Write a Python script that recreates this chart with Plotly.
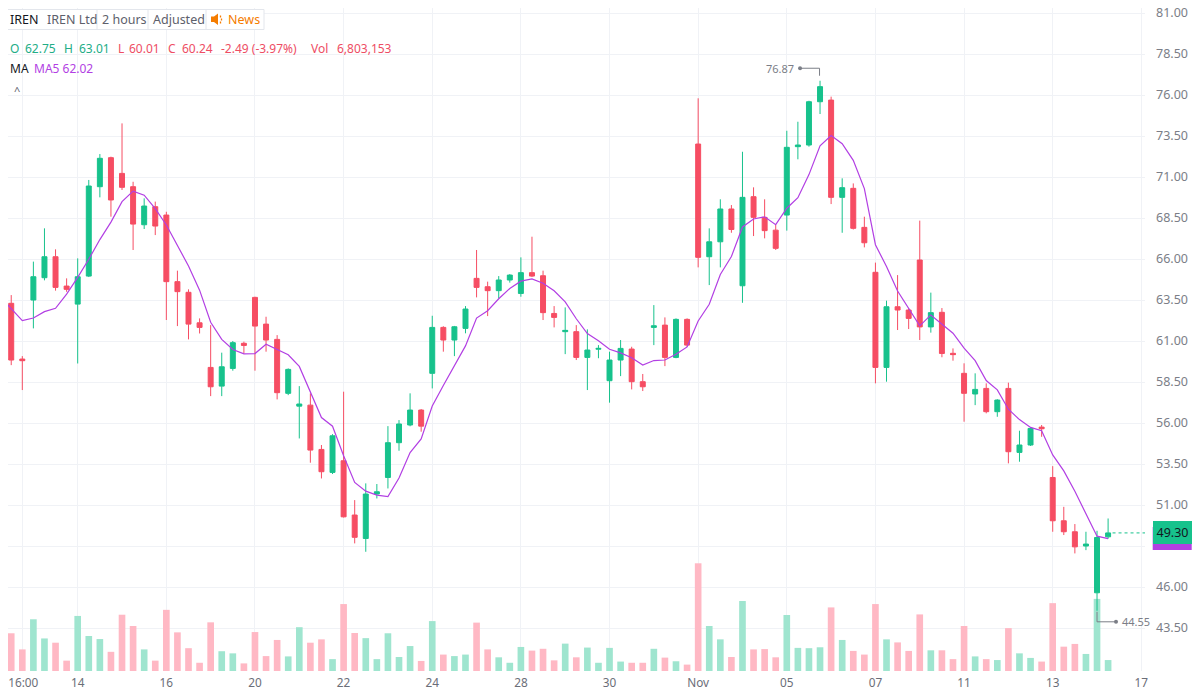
import plotly.graph_objects as go
import pandas as pd

# ---------------- data ----------------
opens = [64.15, 63.30, 59.90, 63.50, 64.86, 66.14, 64.35, 63.25, 64.96, 70.41,
         72.18, 71.22, 70.41, 68.09, 69.19, 68.68, 64.62, 63.97, 62.11, 59.39,
         58.25, 59.33, 60.86, 63.66, 62.03, 61.10, 57.81, 57.03, 57.09, 54.39,
         52.99, 53.70, 50.39, 48.96, 51.67, 52.68, 54.80, 55.88, 56.79, 59.03,
         61.83, 61.06, 61.77, 64.82, 64.31, 64.07, 64.72, 63.90, 65.17, 64.98,
         62.68, 61.57, 61.57, 60.00, 60.50, 58.58, 59.84, 60.51, 58.52, 61.83,
         61.97, 60.00, 62.32, 73.01, 66.14, 67.05, 69.05, 64.37, 69.80, 68.54,
         67.76, 68.68, 72.85, 72.95, 75.59, 75.69, 69.76, 70.31, 67.93, 65.19,
         59.39, 63.09, 62.89, 65.94, 61.86, 62.75, 60.25, 59.03, 57.77, 58.11,
         56.69, 58.11, 54.21, 54.66, 55.75, 52.68, 50.04, 49.37, 48.50, 45.65,
         49.06]
highs = [64.35, 63.80, 60.08, 65.84, 67.87, 66.59, 64.82, 66.04, 70.82, 72.40,
         72.24, 74.27, 70.71, 69.70, 69.50, 68.88, 65.29, 64.15, 62.38, 61.97,
         60.29, 61.00, 60.96, 63.70, 62.48, 61.36, 59.33, 58.25, 57.81, 54.66,
         55.32, 57.91, 51.30, 52.32, 52.28, 55.81, 56.18, 57.81, 56.85, 62.54,
         61.90, 61.92, 63.13, 66.55, 64.62, 64.96, 65.08, 66.10, 67.36, 65.29,
         63.13, 63.05, 61.97, 61.71, 60.75, 60.35, 61.06, 60.65, 58.99, 63.19,
         62.44, 62.38, 62.38, 75.80, 67.87, 69.64, 69.29, 72.54, 70.37, 69.64,
         68.07, 73.82, 74.37, 75.65, 76.87, 75.90, 70.92, 70.61, 68.58, 65.78,
         63.46, 65.02, 63.00, 68.34, 63.95, 63.01, 60.55, 59.64, 59.03, 58.42,
         57.45, 58.46, 55.53, 55.75, 55.88, 53.37, 50.89, 49.84, 49.37, 49.43,
         50.18]
lows = [63.10, 59.53, 58.01, 61.77, 64.70, 64.07, 64.00, 59.63, 64.90, 69.76,
        68.58, 70.21, 66.55, 67.83, 67.46, 62.28, 61.91, 61.10, 61.46, 57.64,
        57.64, 59.19, 60.24, 59.19, 60.35, 57.44, 57.70, 55.06, 53.58, 52.62,
        52.89, 50.24, 48.66, 48.15, 51.40, 52.01, 54.31, 55.80, 55.47, 58.11,
        60.35, 60.08, 61.47, 63.66, 62.52, 63.60, 64.56, 63.70, 64.90, 62.28,
        61.83, 60.20, 59.84, 58.01, 59.95, 57.24, 58.86, 58.05, 57.95, 60.75,
        59.47, 59.95, 60.65, 65.49, 64.41, 65.49, 67.60, 63.33, 67.40, 67.26,
        66.55, 67.73, 72.08, 72.85, 74.84, 69.35, 67.60, 67.80, 66.71, 58.42,
        58.52, 61.67, 61.73, 61.06, 61.51, 60.01, 59.80, 56.08, 57.09, 56.59,
        56.38, 53.54, 53.64, 54.60, 55.16, 49.37, 49.17, 48.05, 48.25, 44.55,
        48.95]
closes = [63.25, 59.84, 59.80, 64.92, 66.14, 64.27, 64.15, 64.92, 70.45, 72.14,
          69.60, 70.37, 68.13, 69.23, 68.01, 64.62, 64.01, 62.03, 61.83, 58.21,
          59.43, 60.90, 60.73, 61.91, 61.06, 57.85, 59.27, 57.16, 54.35, 53.03,
          55.22, 50.28, 49.03, 51.67, 51.81, 54.80, 55.94, 56.79, 55.81, 61.83,
          61.06, 61.87, 62.95, 64.27, 64.07, 64.72, 65.02, 65.17, 64.96, 62.73,
          62.44, 61.65, 60.00, 60.45, 60.55, 59.84, 60.55, 58.52, 58.21, 61.93,
          60.00, 62.32, 60.75, 66.10, 67.05, 69.05, 67.80, 69.76, 68.54, 67.73,
          66.65, 72.81, 72.95, 75.59, 76.51, 69.76, 70.35, 67.87, 66.99, 59.39,
          63.09, 62.89, 62.38, 61.86, 62.73, 60.24, 60.17, 57.81, 58.05, 56.69,
          57.40, 54.25, 54.66, 55.67, 55.65, 50.04, 49.37, 48.45, 48.62, 49.02,
          49.30]
# closes of the 4 bars before the visible window (estimated from the MA line)
prior_closes = [63.39, 63.55, 64.12, 64.19]
# volume in millions of shares
volumes = [14.9, 12.4, 7.1, 17.0, 10.7, 9.3, 3.4, 18.1, 11.5, 10.5,
           6.3, 18.5, 14.8, 7.1, 3.4, 20.1, 12.7, 7.5, 2.7, 16.0,
           6.5, 5.8, 2.5, 12.8, 4.9, 10.2, 4.8, 14.4, 9.3, 10.4,
           3.9, 22.0, 12.5, 10.8, 3.9, 12.4, 4.6, 8.2, 3.3, 16.4,
           5.4, 4.9, 5.4, 15.9, 7.1, 4.5, 2.7, 7.9, 6.7, 7.3,
           3.5, 9.0, 4.5, 7.7, 2.7, 7.6, 3.1, 2.7, 2.7, 7.3,
           4.4, 3.2, 2.1, 35.4, 14.8, 10.4, 4.6, 23.0, 7.1, 7.2,
           4.5, 18.4, 7.6, 7.5, 7.8, 20.9, 10.2, 6.6, 5.4, 22.0,
           10.4, 9.4, 6.6, 18.6, 6.8, 6.803153, 3.9, 14.8, 4.8, 3.9,
           3.6, 14.1, 5.8, 4.3, 3.1, 22.3, 8.0, 8.9, 5.6, 23.7,
           3.6]
tick_idx = [2, 7, 15, 23, 31, 39, 47, 55, 63, 71, 79, 87, 95, 103]
tick_text = ["\u200916:00", "14", "16", "20", "22", "24", "28", "30", "Nov", "05", "07", "11", "13", "17"]
price_ticks = [43.5, 46.0, 48.5, 51.0, 53.5, 56.0, 58.5, 61.0, 63.5, 66.0, 68.5, 71.0, 73.5, 76.0, 78.5, 81.0]
hidden_price_ticks = [48.5]   # covered by the last-price tag in the reference

# ---------------- styling ----------------
UP = "#17c28c"
DN = "#f64d63"
VUP = "#9fe5cf"
VDN = "#ffb8c4"
MA_C = "#b23fe3"
GRID = "#f0f2f6"
AX = "#7b7e87"
FONT = "Noto Sans"

OFF = 8                      # page body margin of the browser
W, H = 1200 - OFF, 693 - OFF
ML, MR, MT, MB = 0, 55, 0, 22
PW, PH = W - ML - MR, H - MT - MB

n = len(closes)
idx = list(range(n))
XR = [0.709, 103.33]
YR = [40.88, 81.305]
VR = [0, 217.9]

ma = pd.Series(prior_closes + closes).rolling(5).mean().tolist()[len(prior_closes):]

def px(sx):
    return (sx - OFF) / PW

def py(sy):
    return (PH - (sy - OFF)) / PH

fig = go.Figure()

fig.add_trace(go.Bar(
    x=idx, y=volumes, width=0.6,
    marker=dict(color=[VUP if c >= o else VDN for o, c in zip(opens, closes)], line=dict(width=0)),
    xaxis="x", yaxis="y", hoverinfo="skip", showlegend=False))

fig.add_trace(go.Candlestick(
    x=idx, open=opens, high=highs, low=lows, close=closes,
    increasing=dict(line=dict(color=UP, width=1), fillcolor=UP),
    decreasing=dict(line=dict(color=DN, width=1), fillcolor=DN),
    whiskerwidth=0, xaxis="x", yaxis="y2", showlegend=False))

fig.add_trace(go.Scatter(
    x=idx, y=ma, mode="lines", line=dict(color=MA_C, width=1.2),
    xaxis="x", yaxis="y2", hoverinfo="skip", showlegend=False))

shapes = []
annotations = []

# last price dotted line
shapes.append(dict(type="line", xref="x", yref="y2", x0=idx[-1] + 0.4, x1=XR[1],
                   y0=closes[-1], y1=closes[-1], line=dict(color=UP, width=1, dash="dot")))

# high / low markers
hi_i = max(idx, key=lambda i: highs[i])
lo_i = min(idx, key=lambda i: lows[i])
MK = "#7b7e87"
shapes += [
    dict(type="line", xref="x", yref="y2", xsizemode="pixel", ysizemode="pixel",
         xanchor=hi_i, yanchor=highs[hi_i], x0=-0.5, x1=-0.5, y0=5, y1=12.5, line=dict(color=MK, width=1)),
    dict(type="line", xref="x", yref="y2", xsizemode="pixel", ysizemode="pixel",
         xanchor=hi_i, yanchor=highs[hi_i], x0=-20, x1=-0.5, y0=12.5, y1=12.5, line=dict(color=MK, width=1)),
    dict(type="circle", xref="x", yref="y2", xsizemode="pixel", ysizemode="pixel",
         xanchor=hi_i, yanchor=highs[hi_i], x0=-22, x1=-18, y0=10.5, y1=14.5, fillcolor=MK, line=dict(width=0)),
    dict(type="line", xref="x", yref="y2", xsizemode="pixel", ysizemode="pixel",
         xanchor=lo_i, yanchor=lows[lo_i], x0=0, x1=0, y0=-1, y1=-11, line=dict(color=MK, width=1)),
    dict(type="line", xref="x", yref="y2", xsizemode="pixel", ysizemode="pixel",
         xanchor=lo_i, yanchor=lows[lo_i], x0=0, x1=19, y0=-11, y1=-11, line=dict(color=MK, width=1)),
    dict(type="circle", xref="x", yref="y2", xsizemode="pixel", ysizemode="pixel",
         xanchor=lo_i, yanchor=lows[lo_i], x0=17, x1=21, y0=-13, y1=-9, fillcolor=MK, line=dict(width=0)),
]
annotations += [
    dict(x=hi_i, y=highs[hi_i], xref="x", yref="y2", text=f"{highs[hi_i]:.2f}", showarrow=False,
         xanchor="right", yanchor="middle", xshift=-24, yshift=12.5, font=dict(family=FONT, size=11, color=AX)),
    dict(x=lo_i, y=lows[lo_i], xref="x", yref="y2", text=f"{lows[lo_i]:.2f}", showarrow=False,
         xanchor="left", yanchor="middle", xshift=23, yshift=-11, font=dict(family=FONT, size=11, color=AX)),
]

# price tags on the axis: MA tag (partly hidden) then the last-price tag
shapes.append(dict(type="rect", xref="paper", yref="y2", ysizemode="pixel", yanchor=ma[-1],
                   x0=px(1152.7), x1=px(1191.7), y0=-11.5, y1=11.5,
                   fillcolor=MA_C, line=dict(width=0), layer="above"))
annotations.append(dict(x=1, y=closes[-1], xref="paper", yref="y2", text=f"{closes[-1]:.2f}", showarrow=False,
                        xanchor="left", yanchor="middle", xshift=7.7, bgcolor=UP, borderpad=2,
                        borderwidth=1, bordercolor=UP, width=33, height=17,
                        font=dict(family=FONT, size=12.5, color="#131722")))

# header box
shapes.append(dict(type="rect", xref="paper", yref="paper", x0=px(7.5), x1=px(264), y0=py(29.5), y1=py(9.5),
                   line=dict(color="#e3e6ec", width=1), fillcolor="white", layer="above"))
for sx in [97, 148, 206]:
    shapes.append(dict(type="line", xref="paper", yref="paper", x0=px(sx), x1=px(sx), y0=py(29.5), y1=py(9.5),
                       line=dict(color="#e3e6ec", width=1), layer="above"))
# speaker icon
ix = [211, 214, 218, 218, 214, 211]
iy = [16.5, 16.5, 13.5, 25, 22, 22]
path = "M " + " L ".join(f"{px(a)},{py(b)}" for a, b in zip(ix, iy)) + " Z"
shapes.append(dict(type="path", xref="paper", yref="paper", path=path, fillcolor="#f57c00",
                   line=dict(width=0), layer="above"))
for a, b0, b1 in [(220.5, 15.5, 17.5), (221.5, 18.5, 20.5), (220.5, 21.5, 23.5)]:
    shapes.append(dict(type="line", xref="paper", yref="paper", x0=px(a), x1=px(a), y0=py(b0), y1=py(b1),
                       line=dict(color="#f57c00", width=1.3), layer="above"))

HS = 12
def hdr(xl, yc, text, color, size=HS):
    annotations.append(dict(x=px(xl - 2), y=py(yc), xref="paper", yref="paper", text=text, showarrow=False,
                            xanchor="left", yanchor="middle", font=dict(family=FONT, size=size, color=color)))

GT = "#22ad86"
RT = "#ee4d64"
hdr(10, 19.5, "IREN", "#131722", 12.5)
hdr(47, 19.5, "IREN Ltd", "#5d606b", 12.5)
hdr(102, 19.5, "2 hours", "#5d606b", 12.5)
hdr(153, 19.5, "Adjusted", "#5d606b", 12.5)
hdr(228, 19.5, "News", "#f57c00", 12.5)

k = 85   # bar shown in the legend
chg = closes[k] - closes[k - 1]
pct = chg / closes[k - 1] * 100
hdr(10, 48.5, "O", GT)
hdr(25, 48.5, f"{opens[k]:.2f}", GT)
hdr(64, 48.5, "H", GT)
hdr(79, 48.5, f"{highs[k]:.2f}", GT)
hdr(118, 48.5, "L", RT)
hdr(129, 48.5, f"{lows[k]:.2f}", RT)
hdr(168, 48.5, "C", RT)
hdr(182, 48.5, f"{closes[k]:.2f}", RT)
hdr(221, 48.5, f"{chg:.2f} ({pct:.2f}%)", RT)
hdr(311, 48.5, "Vol", RT)
hdr(337, 48.5, f"{round(volumes[k]*1e6):,}", RT)
hdr(10, 68.5, "MA", "#131722")
hdr(34, 68.5, f"MA5 {ma[k]:.2f}", MA_C)
hdr(14, 90, "^", "#5d606b", size=11)

fig.update_layout(
    width=W, height=H, margin=dict(l=ML, r=MR, t=MT, b=MB, autoexpand=False),
    paper_bgcolor="white", plot_bgcolor="white", showlegend=False,
    boxgap=0.36,
    font=dict(family=FONT, size=12, color=AX),
    xaxis=dict(range=XR, tickmode="array", tickvals=tick_idx, ticktext=tick_text, automargin=False,
               showgrid=True, gridcolor=GRID, gridwidth=1, zeroline=False, showline=False,
               ticks="", ticklabelstandoff=3, ticklabeloverflow="allow",
               tickfont=dict(family=FONT, size=11.8, color="#6b6e78"),
               rangeslider=dict(visible=False), fixedrange=True),
    yaxis=dict(range=VR, visible=False, showgrid=False, zeroline=False, fixedrange=True, automargin=False),
    yaxis2=dict(range=YR, overlaying="y", side="right", tickmode="array", tickvals=price_ticks,
                ticktext=["" if v in hidden_price_ticks else f"{v:.2f}" for v in price_ticks],
                showgrid=True, gridcolor=GRID, gridwidth=1, automargin=False,
                zeroline=False, showline=False, ticks="", ticklabelstandoff=10, ticklabeloverflow="allow",
                tickfont=dict(family=FONT, size=12.5, color=AX), fixedrange=True),
    shapes=shapes, annotations=annotations,
)

fig.write_html("out.html")
